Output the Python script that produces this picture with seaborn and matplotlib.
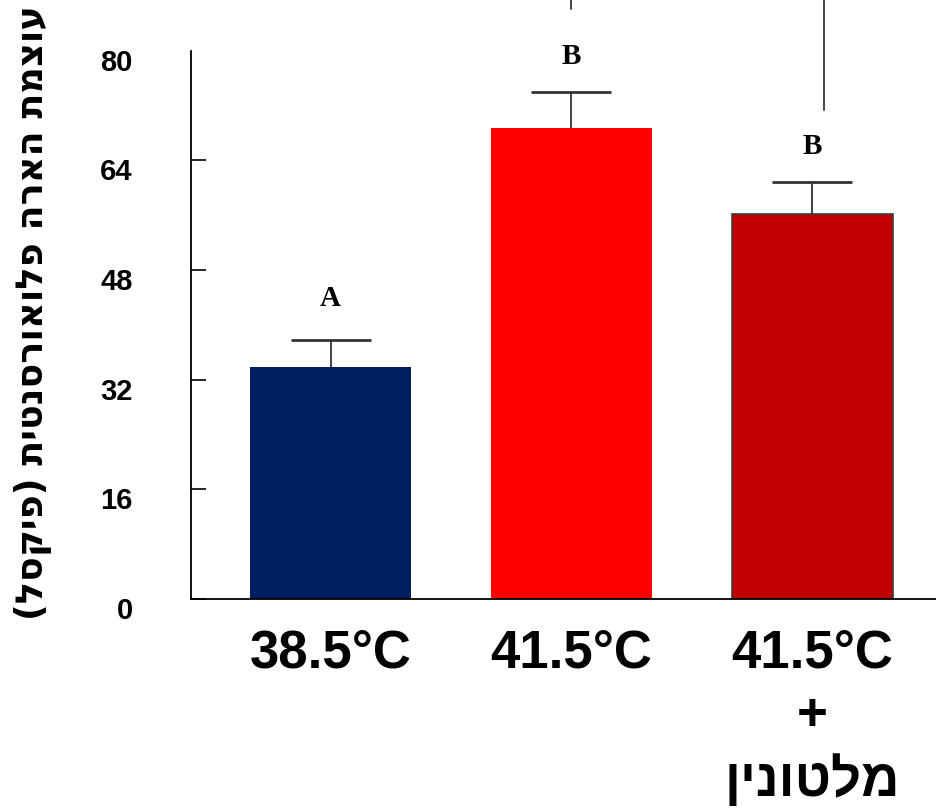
import numpy as np
import pandas as pd
import matplotlib
matplotlib.use("Agg")
import matplotlib.pyplot as plt
import matplotlib.transforms as mtransforms
import seaborn as sns


def visual(s):
    # matplotlib has no bidi support: reverse the Hebrew and mirror the brackets
    return s[::-1].translate(str.maketrans("()", ")("))


# data
categories = ["38.5°C", "41.5°C", "41.5°C\n+\n" + visual("מלטונין")]
means = [33.8, 68.7, 56.1]
sem = [4.0, 5.3, 4.7]
letters = ["A", "B", "B"]
letter_y = [43.9, 79.1, 66.0]
bar_colors = ["#001F5F", "#FF0000", "#C00000"]
y_ticks = [0, 16, 32, 48, 64, 80]
ylabel = "עוצמת הארה פלואורסנטית (פיקסל)"
# stray vertical strokes above the plot (x position, lower end)
stray_x = [1.0, 2.048]
stray_y0 = [86.1, 71.3]

df = pd.DataFrame({"group": categories, "value": means})

sns.set_style("white")
plt.rcParams["font.family"] = ["Liberation Sans", "DejaVu Sans"]
for key in ["text.color", "axes.labelcolor", "xtick.color", "ytick.color"]:
    plt.rcParams[key] = "black"

fig = plt.figure(figsize=(9.36, 8.08), dpi=100)
ax = fig.add_axes([191 / 936, 1 - 599 / 808, 745 / 936, (599 - 50.6) / 808])

sns.barplot(data=df, x="group", y="value", hue="group", palette=bar_colors,
            legend=False, width=0.67, errorbar=None, ax=ax, saturation=1)

for i, patch in enumerate(ax.patches):
    patch.set_linewidth(0)
    if i == 2:
        patch.set_edgecolor("#3a3a3a")
        patch.set_linewidth(1.2)

# upper error bars only
eb = ax.errorbar(range(3), means, yerr=[np.zeros(3), sem], fmt="none",
                 ecolor="#333333", elinewidth=1.3, capsize=28.5, capthick=2)
eb[1][0].set_visible(False)
eb[1][1].set_color("#808080")

# significance letters
for i, (t, y) in enumerate(zip(letters, letter_y)):
    ax.text(i, y, t, ha="center", va="center", fontsize=21, fontweight="bold",
            family="Liberation Serif")

for x, y0 in zip(stray_x, stray_y0):
    ax.plot([x, x], [y0, 95], color="#444444", lw=1.4, clip_on=False)

ax.set_xlim(-0.579, 2.513)
ax.set_ylim(0, 80)
ax.set_yticks(y_ticks)
ax.set_yticklabels([str(v) for v in y_ticks], fontsize=21, fontweight="bold")
ax.set_xticks(range(3))
ax.set_xticklabels(categories, fontsize=38, fontweight="bold", va="top",
                   linespacing=1.32)
ax.tick_params(axis="y", direction="in", length=11, width=1.2, pad=42, left=True)
ax.tick_params(axis="x", length=0, pad=21)
ax.yaxis.get_major_ticks()[-1].tick1line.set_visible(False)
shift = mtransforms.ScaledTranslation(0, -9 / 100, fig.dpi_scale_trans)
for lab in ax.get_yticklabels():
    lab.set_transform(lab.get_transform() + shift)

ax.set_xlabel("")
ax.set_ylabel("")
for side in ["top", "right"]:
    ax.spines[side].set_visible(False)
for side in ["left", "bottom"]:
    ax.spines[side].set_color("black")
    ax.spines[side].set_linewidth(1.3)

fig.text(33 / 936, 1 - 313 / 808, visual(ylabel), rotation=90, ha="center",
         va="center", fontsize=26.4, fontweight="bold", family="DejaVu Sans")

fig.savefig("out.png", dpi=100)
